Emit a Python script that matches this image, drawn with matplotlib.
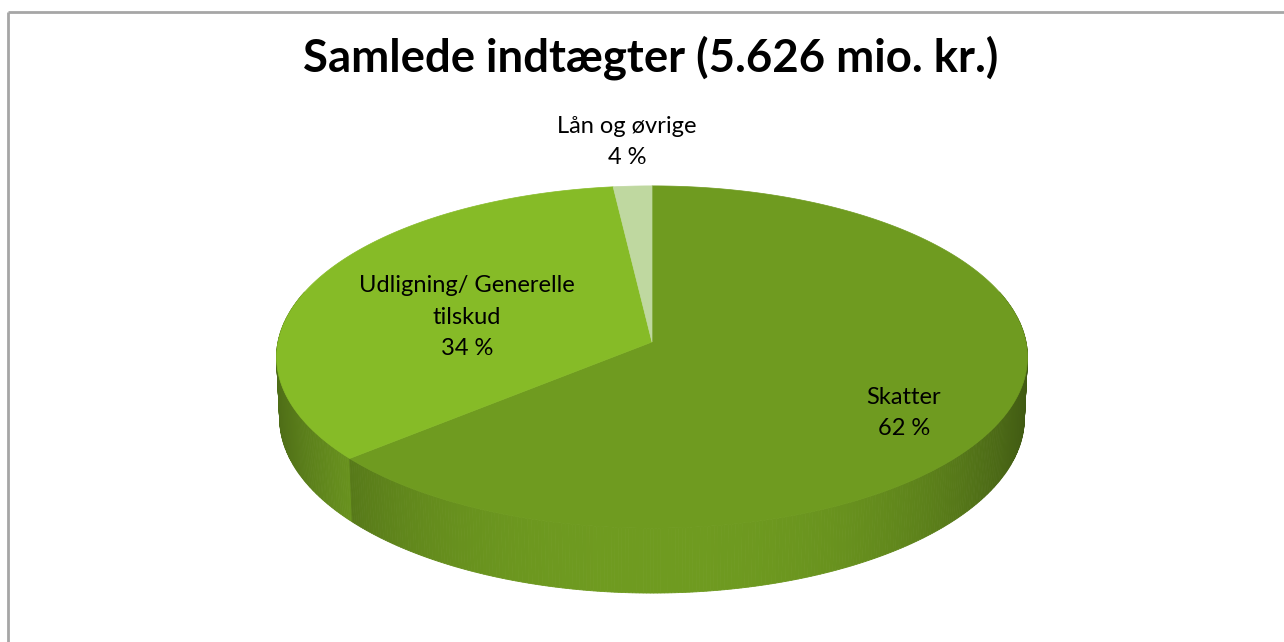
import numpy as np
import matplotlib
matplotlib.use("Agg")
import matplotlib.pyplot as plt
from matplotlib.patches import Polygon
from matplotlib.colors import to_rgb

# ---- data ----
title = "Samlede indtægter (5.626 mio. kr.)"
categories = ["Skatter", "Udligning/ Generelle\ntilskud", "Lån og øvrige"]
shares = [63.8, 34.4, 1.8]          # slice sizes as drawn
pct_labels = ["62 %", "34 %", "4 %"]  # label text as printed
colors = ["#6F9B20", "#86BB27", "#BFD8A0"]

# ---- geometry of the projected 3D disc ----
W, H = 1284, 642
cx, cy = 652, 342
elev = np.deg2rad(27.0)
s_e, c_e = np.sin(elev), np.cos(elev)
dist = 10.16
F = 374 * dist
thick = 0.184


def project(theta, y):
    X = np.sin(theta)
    Z = np.cos(theta)
    depth = dist + c_e * Z - s_e * y
    sx = F * X / depth
    sy = F * (c_e * y + s_e * Z) / depth
    return cx + sx, cy - sy


fig = plt.figure(figsize=(W / 100, H / 100), dpi=100)
ax = fig.add_axes([0, 0, 1, 1])
ax.set_xlim(0, W)
ax.set_ylim(H, 0)
ax.axis("off")

fracs = np.array(shares) / np.sum(shares)
bounds = np.concatenate([[0], np.cumsum(fracs)]) * 2 * np.pi

# side strips (painter's order: far to near)
strips = []
step = np.deg2rad(0.5)
for i in range(len(shares)):
    a0, a1 = bounds[i], bounds[i + 1]
    n = max(2, int(np.ceil((a1 - a0) / step)))
    th = np.linspace(a0, a1, n + 1)
    for k in range(n):
        t0, t1 = th[k], th[k + 1]
        tm = 0.5 * (t0 + t1)
        if np.cos(tm) > 0.3:
            continue
        strips.append((np.cos(tm), i, t0, t1, tm))
strips.sort(key=lambda r: -r[0])
for _, i, t0, t1, tm in strips:
    u = np.sin(tm)
    shade = 1 - 0.43 * abs(u) ** 2.5
    base = np.array(to_rgb(colors[i]))
    col = np.clip(base * shade, 0, 1)
    x0t, y0t = project(t0, 0)
    x1t, y1t = project(t1, 0)
    x0b, y0b = project(t0, -thick)
    x1b, y1b = project(t1, -thick)
    ax.add_patch(Polygon([(x0t, y0t), (x1t, y1t), (x1b, y1b), (x0b, y0b)],
                         closed=True, facecolor=col, edgecolor=col,
                         linewidth=0.6, antialiased=True))

# top faces
for i in range(len(shares)):
    a0, a1 = bounds[i], bounds[i + 1]
    th = np.linspace(a0, a1, max(3, int(np.degrees(a1 - a0) * 2)))
    xs, ys = project(th, 0)
    pts = [(cx, cy)] + list(zip(xs, ys))
    ax.add_patch(Polygon(pts, closed=True, facecolor=colors[i],
                         edgecolor=colors[i], linewidth=0.5))

# labels
font = "Lato"
label_pos = [(904, 413), (467, 317), (627, 142)]
for name, pct, (lx, ly) in zip(categories, pct_labels, label_pos):
    ax.text(lx, ly, f"{name}\n{pct}", ha="center", va="center",
            fontsize=17, family=font, color="black", linespacing=1.6)

ax.text(651, 58, title, ha="center", va="center", fontsize=32.8,
        family=font, fontweight="bold", color="black")

# chart border (top and left visible)
ax.plot([8, 8], [12, H + 5], color="#A6A6A6", lw=2, solid_capstyle="butt",
        clip_on=False)
ax.plot([8, W + 5], [12, 12], color="#A6A6A6", lw=2, solid_capstyle="butt",
        clip_on=False)

fig.savefig("out.png", dpi=100)
